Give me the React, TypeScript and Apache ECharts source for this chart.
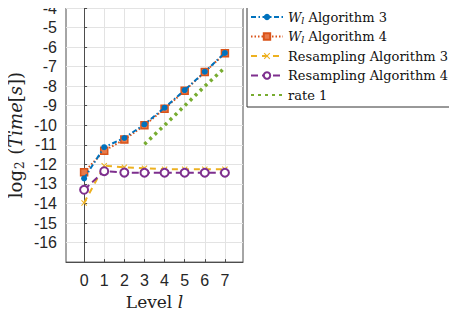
import React, { useEffect, useRef } from "react";
import * as echarts from "echarts";

const levels = [0, 1, 2, 3, 4, 5, 6, 7];
const wlAlg3 = [-12.72, -11.12, -10.65, -9.95, -9.1, -8.2, -7.26, -6.3];
const wlAlg4 = [-12.4, -11.3, -10.73, -10.0, -9.16, -8.23, -7.28, -6.32];
const resAlg3 = [-13.97, -12.07, -12.15, -12.2, -12.25, -12.25, -12.25, -12.25];
const resAlg4 = [-13.3, -12.35, -12.42, -12.43, -12.43, -12.43, -12.43, -12.43];
const rateLevels = [3, 4, 5, 6, 7];
const rate1 = [-10.97, -10.0, -9.0, -8.0, -7.05];
const yTicks = [-4, -5, -6, -7, -8, -9, -10, -11, -12, -13, -14, -15, -16];

const names = [
  "{i|W}{sub|l}{n| Algorithm 3}",
  "{i|W}{sub|l}{n| Algorithm 4}",
  "Resampling Algorithm 3",
  "Resampling Algorithm 4",
  "rate 1",
];

const SERIF = "'DejaVu Serif', serif";
const SANS = "'Liberation Sans', Arial, sans-serif";

const xSymbol =
  "path://M0,1.2L1.2,0L5,3.8L8.8,0L10,1.2L6.2,5L10,8.8L8.8,10L5,6.2L1.2,10L0,8.8L3.8,5Z";

export default function App() {
  const ref = useRef<HTMLDivElement>(null);
  useEffect(() => {
    if (!ref.current) return;
    const chart = echarts.init(ref.current, undefined, { renderer: "svg" });
    const pair = (xs: number[], ys: number[]) => xs.map((x, i) => [x, ys[i]]);
    const LF = 13;
    const YF = 18;
    chart.setOption({
      animation: false,
      backgroundColor: "#ffffff",
      grid: {
        left: 66,
        top: 6,
        width: 177,
        height: 261,
        show: true,
        borderColor: "#4d4d4d",
        borderWidth: 1,
        backgroundColor: "transparent",
      },
      legend: {
        orient: "vertical",
        left: 247,
        top: 6,
        itemWidth: 32,
        itemHeight: 8,
        itemGap: 3.5,
        padding: [3, 5, 4, 3],
        borderColor: "#333",
        borderWidth: 1,
        borderRadius: 0,
        backgroundColor: "#fff",
        textStyle: {
          fontFamily: SERIF,
          fontSize: LF,
          lineHeight: 16,
          color: "#111",
          rich: {
            n: { fontFamily: SERIF, fontSize: LF, lineHeight: 16, color: "#111" },
            i: { fontFamily: SERIF, fontStyle: "italic", fontSize: LF, lineHeight: 16, color: "#111" },
            sub: {
              fontFamily: SERIF,
              fontStyle: "italic",
              fontSize: 9.5,
              lineHeight: 10,
              color: "#111",
              verticalAlign: "bottom",
              padding: [6, 0, 0, 0],
            },
          },
        },
        data: [
          { name: names[0] },
          { name: names[1] },
          { name: names[2] },
          { name: names[3] },
          { name: names[4], itemStyle: { opacity: 0 } },
        ],
      },
      xAxis: {
        type: "value",
        min: -0.9,
        max: 7.9,
        name: "Level {i|l}",
        nameLocation: "middle",
        nameGap: 29,
        nameTextStyle: {
          fontFamily: SERIF,
          fontSize: 17,
          color: "#222",
          rich: {
            i: { fontFamily: SERIF, fontStyle: "italic", fontSize: 17, color: "#222" },
          },
        },
        axisLine: { show: true, lineStyle: { color: "#4d4d4d" } },
        axisTick: {
          show: true,
          inside: true,
          length: 3,
          customValues: levels,
          lineStyle: { color: "#4d4d4d" },
        },
        axisLabel: {
          customValues: levels,
          fontFamily: SANS,
          fontSize: 16,
          color: "#262626",
          margin: 10,
        },
        splitLine: { show: true, lineStyle: { color: "#e3e3e3", width: 1 } },
      },
      yAxis: {
        type: "value",
        min: -17,
        max: -4,
        interval: 1,
        name: "{n|log}{s|2}{n| (}{i|Time}{n|[}{i|s}{n|])}",
        nameLocation: "middle",
        nameRotate: 90,
        nameGap: 40,
        nameTextStyle: {
          rich: {
            n: { fontFamily: SERIF, fontSize: YF, lineHeight: 21, color: "#222" },
            i: { fontFamily: SERIF, fontStyle: "italic", fontSize: YF, lineHeight: 21, color: "#222" },
            s: {
              fontFamily: SERIF,
              fontSize: 12,
              lineHeight: 12,
              color: "#222",
              verticalAlign: "bottom",
              padding: [9, 1, 0, 1],
            },
          },
        },
        axisLine: { show: true, lineStyle: { color: "#4d4d4d" } },
        axisTick: { show: true, inside: true, length: 3, lineStyle: { color: "#4d4d4d" } },
        axisLabel: {
          fontFamily: SANS,
          fontSize: 16,
          color: "#262626",
          margin: 9,
          formatter: (v: number) => (yTicks.includes(v) ? String(v) : ""),
        },
        splitLine: { show: true, lineStyle: { color: "#e3e3e3", width: 1 } },
      },
      series: [
        {
          name: names[0],
          type: "line",
          data: pair(levels, wlAlg3),
          color: "#0072BD",
          symbol: "circle",
          symbolSize: 6,
          lineStyle: { width: 2, type: [5, 2.5, 1.5, 2.5], color: "#0072BD" },
          itemStyle: { color: "#0072BD" },
          z: 3,
        },
        {
          name: names[1],
          type: "line",
          data: pair(levels, wlAlg4),
          color: "#D95319",
          symbol: "rect",
          symbolSize: 7,
          lineStyle: { width: 2, type: [1.5, 2], color: "#D95319" },
          itemStyle: { color: "#E87A4A", borderColor: "#D95319", borderWidth: 1.5 },
          z: 2,
        },
        {
          name: names[2],
          type: "line",
          data: pair(levels, resAlg3),
          color: "#EDB120",
          symbol: xSymbol,
          symbolSize: 6,
          lineStyle: { width: 2, type: [6, 5], color: "#EDB120" },
          itemStyle: { color: "#EDB120" },
          z: 2,
        },
        {
          name: names[3],
          type: "line",
          data: pair(levels, resAlg4),
          color: "#7E2F8E",
          symbol: "circle",
          symbolSize: 8,
          lineStyle: { width: 2, type: [7, 4], color: "#7E2F8E" },
          itemStyle: { color: "#ffffff", borderColor: "#7E2F8E", borderWidth: 2 },
          z: 3,
        },
        {
          name: names[4],
          type: "line",
          data: pair(rateLevels, rate1),
          color: "#77AC30",
          symbol: "none",
          lineStyle: { width: 3.5, type: [3, 4], color: "#77AC30" },
          z: 1,
        },
      ],
    });
    return () => chart.dispose();
  }, []);
  return <div ref={ref} style={{ width: 457, height: 315, marginLeft: -8, marginTop: -8 }} />;
}
